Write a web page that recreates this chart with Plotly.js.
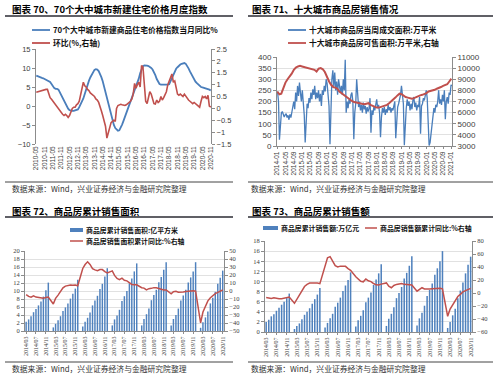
<!DOCTYPE html>
<html><head><meta charset="utf-8">
<script src="https://cdn.plot.ly/plotly-3.0.1.min.js"></script>
<style>html,body{margin:0;padding:0;background:#fff}#chart{width:500px;height:378px}</style>
</head><body><div id="chart"></div>
<script>
// ---------- Panel 70: 70-city new home price index (monthly, 2010-05 .. 2020-11)
const p1StartYear = 2010, p1StartMonth = 5;
const p1Yoy = [
  8.0, 7.8, 7.7, 7.6, 7.4, 7.3, 7.1, 7.0,
  6.8, 6.6, 6.3, 5.8, 5.2, 4.7, 4.5, 4.5, 4.3, 3.6, 2.9, 2.0,
  1.1, 0.4, -0.2, -0.7, -1.1, -1.3, -1.3, -1.3, -1.2, -1.1, -0.9, -0.3,
  0.7, 1.3, 2.0, 3.3, 4.6, 5.6, 6.6, 7.5, 8.2, 8.9, 9.5, 9.7,
  9.6, 9.2, 8.5, 7.6, 6.5, 5.0, 3.5, 2.0, 0.5, -1.2, -2.8, -4.0,
  -5.0, -5.8, -6.3, -6.5, -6.4, -5.8, -4.9, -3.9, -2.9, -1.9, -0.9, 0.2,
  1.3, 2.2, 3.1, 4.0, 4.8, 5.8, 7.2, 8.6, 9.8, 10.5, 10.7, 10.7,
  10.6, 10.5, 10.3, 10.0, 9.6, 9.0, 8.1, 7.1, 6.3, 5.8, 5.6, 5.6,
  5.5, 5.5, 5.5, 5.6, 5.7, 6.5, 7.6, 8.5, 9.3, 9.8, 10.2, 10.6,
  10.9, 11.1, 11.3, 11.3, 11.1, 10.6, 9.9, 9.1, 8.3, 7.6, 7.0, 6.4,
  6.0, 5.6, 5.2, 5.0, 4.9, 4.8, 4.7, 4.6, 4.5, 4.3, 4.1
];
const p1Mom = [
  0.68, 0.7, 0.72, 0.74, 0.75, 0.77, 0.78, 0.8, 0.8, 0.55,
  0.45, 0.38, 0.3, 0.2, 0.15, 0.05, 0.0, -0.1, -0.2, -0.25,
  -0.3, -0.25, -0.3, -0.38, -0.3, -0.1, 0.0, 0.05, 0.05, 0.15,
  0.2, 0.3, 0.55, 0.9, 1.1, 0.95, 0.9, 0.8, 0.75, 0.65,
  0.6, 0.55, 0.5, 0.4, 0.35, 0.25, 0.12, -0.1, -0.3, -0.55,
  -0.75, -1.25, -1.0, -0.85, -0.6, -0.55, -0.5, -0.55, 0.0, 0.12,
  0.15, 0.17, 0.15, 0.14, 0.12, 0.15, 0.2, 0.25, 0.3, 0.4,
  0.6, 1.05, 0.85, 1.0, 1.1, 0.9, 1.8, 1.75, 0.8, 0.3,
  0.2, 0.55, 0.7, 0.6, 0.4, 0.2, 0.18, 0.35, 0.25, 0.3,
  0.5, 0.35, 0.45, 0.55, 0.7, 1.0, 1.2, 1.3, 1.45, 1.1,
  1.15, 0.9, 0.6, 0.55, 0.6, 0.55, 0.5, 0.6, 0.5, 0.4,
  0.35, 0.3, 0.25, 0.2, 0.25, 0.2, 0.15, 0.1, 0.05, 0.3,
  0.5, 0.45, 0.5, 0.4, 0.55, 0.1, 0.05
];

// ---------- Panel 71: ten-city sales (deal area sampled every 2 weeks from 2014-01-05; inventory monthly from 2014-01)
const p2DealStart = [2014, 1, 5];
const p2DealStepDays = 14;
const p2Deal = [
  245, 200, 28, 120, 148, 155, 140, 130, 140, 145, 128, 138, 118, 142, 128, 150, 185, 200, 165, 240, 200, 270, 225, 285, 240, 200,
  250, 210, 140, 16, 150, 190, 170, 215, 195, 240, 210, 255, 230, 270, 210, 240, 215, 250, 200, 235, 180, 250, 230, 270, 245, 300,
  280, 240, 180, 8, 200, 300, 340, 270, 330, 250, 290, 230, 300, 260, 240, 270, 230, 300, 250, 388, 150, 200, 170, 210, 190, 230,
  240, 200, 30, 150, 190, 300, 200, 175, 200, 160, 185, 150, 195, 165, 180, 145, 175, 155, 170, 215, 60, 160, 140, 175, 160, 200,
  210, 170, 185, 150, 40, 130, 170, 150, 175, 140, 165, 150, 185, 160, 175, 150, 170, 160, 180, 200, 35, 150, 175, 190, 205, 230,
  270, 210, 190, 3, 120, 170, 210, 180, 200, 160, 190, 165, 205, 220, 175, 195, 160, 185, 175, 220, 55, 180, 190, 215, 205, 235,
  250, 215, 40, 2, 15, 60, 110, 145, 170, 150, 185, 175, 200, 250, 190, 210, 185, 230, 200, 250, 120, 200, 220, 190, 240, 230, 275, 270
];
const p2InvStartYear = 2014, p2InvStartMonth = 1;
const p2Inventory = [
  7900, 7650, 7700, 8200, 8700, 9000, 9200, 9500, 9850, 10050, 10150, 10200,
  10150, 10100, 10000, 9950, 9900, 9900, 9850, 9700, 9950, 10000, 9900, 9650,
  9150, 8800, 8500, 8300, 8250, 8150, 7900, 7750, 7600, 7450, 7350, 7150,
  7050, 6950, 6900, 6850, 6800, 6750, 6750, 6800, 6850, 6700, 6600, 6550,
  6450, 6450, 6500, 6550, 6600, 6700, 6850, 7000, 7150, 7350, 7550, 7700,
  7650, 7500, 7400, 7350, 7300, 7250, 7300, 7400, 7500, 7550, 7600, 7650,
  7750, 7900, 7950, 7950, 8050, 8150, 8200, 8300, 8400, 8450, 8550, 8800,
  9050
];

// ---------- Panels 72/73: cumulative monthly data, 2014-03 .. 2020-11 (January not published)
const p34StartYear = 2014, p34StartMonth = 3;
const p3Area = [
  2.3, 2.9, 3.7, 4.7, 5.5, 6.4, 7.4, 8.6, 10.2, 12.1,
  0.9, 1.8, 2.7, 3.7, 5.0, 5.9, 6.9, 8.1, 9.3, 10.6, 12.8,
  1.1, 2.3, 3.3, 4.6, 6.4, 7.6, 8.8, 10.5, 11.8, 13.6, 15.7,
  1.4, 2.9, 3.9, 5.3, 7.5, 8.7, 10.0, 11.9, 13.1, 14.9, 16.9,
  1.4, 3.0, 4.2, 5.6, 7.7, 9.0, 10.3, 12.2, 13.5, 15.3, 17.2,
  1.4, 3.0, 4.0, 5.6, 7.6, 8.9, 10.3, 12.1, 13.4, 14.9, 17.2,
  0.8, 2.2, 3.4, 4.9, 6.9, 8.3, 9.8, 11.8, 13.3, 15.1
];
const p3AreaYoy = [
  -4.5, -6.8, -7.8, -6.0, -7.6, -8.3, -8.6, -8.9, -8.2, -7.6,
  -16.3, -9.2, -5.1, -0.2, 3.9, 6.1, 7.2, 7.5, 7.2, 7.4, 6.5,
  28.2, 33.1, 36.5, 33.2, 27.9, 26.4, 25.5, 26.9, 26.8, 24.3, 22.5,
  25.1, 19.5, 15.7, 14.3, 16.1, 13.5, 12.7, 10.3, 8.2, 7.9, 7.7,
  4.1, 3.6, 1.3, 2.9, 3.3, 4.2, 4.0, 2.9, 2.2, 1.4, 1.3,
  -3.6, -0.9, -0.3, -1.6, -1.8, -1.3, -0.6, -0.1, 0.1, 0.2, -0.1,
  -39.9, -26.3, -19.3, -12.3, -8.4, -5.8, -3.3, -1.8, 0.0, 1.3
];
const p4Sales = [
  2.0, 2.4, 3.1, 3.5, 4.2, 4.8, 5.4, 6.0, 6.7, 7.6,
  0.6, 1.2, 1.7, 2.5, 3.4, 4.0, 4.7, 5.6, 6.5, 7.4, 8.7,
  0.9, 1.8, 2.7, 3.6, 5.0, 5.8, 6.8, 8.1, 9.2, 10.3, 11.8,
  1.1, 2.3, 3.2, 4.3, 5.9, 6.8, 7.8, 9.3, 10.4, 11.6, 13.4,
  1.2, 2.6, 3.6, 4.9, 6.7, 7.7, 8.9, 10.6, 11.7, 13.1, 15.0,
  1.3, 2.7, 3.8, 5.2, 7.1, 8.3, 9.6, 11.3, 12.6, 14.0, 16.0,
  0.8, 2.0, 3.3, 4.6, 6.7, 8.2, 9.8, 11.6, 13.3, 14.9
];
const p4SalesYoy = [
  -7.0, -8.0, -8.5, -7.5, -8.5, -9.0, -8.8, -8.0, -7.5, -6.3,
  -15.8, -9.3, -3.9, 3.1, 10.0, 13.3, 15.3, 15.3, 15.6, 15.4, 14.4,
  43.6, 54.1, 55.9, 49.0, 42.1, 40.0, 41.3, 41.1, 41.0, 37.5, 34.8,
  25.1, 21.1, 18.1, 17.2, 21.5, 18.8, 17.6, 14.6, 12.6, 12.2, 13.7,
  15.5, 10.4, 8.1, 11.6, 13.2, 14.1, 14.5, 13.3, 13.1, 12.1, 12.2,
  2.8, 5.6, 8.1, 6.1, 5.6, 6.2, 6.7, 7.1, 7.3, 7.3, 6.5,
  -35.9, -24.7, -18.6, -10.6, -5.4, -2.1, 1.6, 3.7, 5.8, 7.2
];

// ---------- text
const titles = ['图表 70、70个大中城市新建住宅价格月度指数', '图表 71、十大城市商品房销售情况',
                '图表 72、商品房累计销售面积', '图表 73、商品房累计销售额'];
const legendNames = {
  p1a: '70个大中城市新建商品住宅价格指数当月同比%', p1b: '环比(%,右轴)',
  p2a: '十大城市商品房当周成交面积:万平米', p2b: '十大城市商品房可售面积:万平米,右轴',
  p3a: '商品房累计销售面积:亿平方米', p3b: '商品房销售面积累计同比:%右轴',
  p4a: '商品房累计销售额:万亿元', p4b: '商品房销售额累计同比:%右轴'
};
const sourceText = '数据来源：Wind，兴业证券经济与金融研究院整理';

// ---------- helpers
function pad(n){return (n<10?'0':'')+n;}
function months(y, m, n, skipJan){
  const out=[]; while(out.length<n){ if(!(skipJan && m===1)) out.push(y+'-'+pad(m)+'-01'); m++; if(m>12){m=1;y++;} } return out;
}
const p1X = months(p1StartYear, p1StartMonth, p1Yoy.length, false);
const p2InvX = months(p2InvStartYear, p2InvStartMonth, p2Inventory.length, false);
const p2DealX = p2Deal.map((_, i) => { const d = new Date(Date.UTC(p2DealStart[0], p2DealStart[1]-1, p2DealStart[2])); d.setUTCDate(d.getUTCDate()+p2DealStepDays*i); return d.toISOString().slice(0,10); });
const p34X = months(p34StartYear, p34StartMonth, p3Area.length, true);

const W=500, H=378;
const fx = px => px/W, fy = py => 1 - py/H;
const BLUE='#4A7EBB', RED='#C0504D', BAR='#4F81BD', AX='#8C8C8C', GRID='#D9D9D9', TK='#404040';
const CJK='"Noto Sans CJK SC", "Noto Sans", sans-serif';
const SANS='"Liberation Sans", Arial, sans-serif';
const SERIF='"Liberation Serif", "Times New Roman", serif';

const traces = [
  {x:p1X, y:p1Yoy, type:'scatter', mode:'lines', line:{color:BLUE,width:1.8}, xaxis:'x', yaxis:'y'},
  {x:p1X, y:p1Mom, type:'scatter', mode:'lines', line:{color:RED,width:1.6}, xaxis:'x', yaxis:'y2'},
  {x:p2DealX, y:p2Deal, type:'scatter', mode:'lines', line:{color:BLUE,width:1.3}, xaxis:'x2', yaxis:'y3'},
  {x:p2InvX, y:p2Inventory, type:'scatter', mode:'lines', line:{color:RED,width:2}, xaxis:'x2', yaxis:'y4'},
  {x:p34X, y:p3Area, type:'bar', marker:{color:BAR}, xaxis:'x3', yaxis:'y5'},
  {x:p34X, y:p3AreaYoy, type:'scatter', mode:'lines', line:{color:RED,width:1.5}, xaxis:'x3', yaxis:'y6'},
  {x:p34X, y:p4Sales, type:'bar', marker:{color:BAR}, xaxis:'x4', yaxis:'y7'},
  {x:p34X, y:p4SalesYoy, type:'scatter', mode:'lines', line:{color:RED,width:1.5}, xaxis:'x4', yaxis:'y8'}
];

const P1={x:[36,211],y:[49,144]}, P2={x:[277,452],y:[57,146]}, P3={x:[25,224],y:[251,331]}, P4={x:[265,472],y:[241,332]};
const dom = p => ({x:[fx(p.x[0]),fx(p.x[1])], y:[fy(p.y[1]),fy(p.y[0])]});
const d1=dom(P1), d2=dom(P2), d3=dom(P3), d4=dom(P4);
const p1Range=[-10,15];
const p1XRange=['2010-04-25','2020-11-06'];
const zeroPos = d1.y[0] + (0-p1Range[0])/(p1Range[1]-p1Range[0])*(d1.y[1]-d1.y[0]);

function yax(extra){ return Object.assign({showline:true, linecolor:AX, linewidth:1, ticks:'outside', ticklen:3, tickcolor:AX, zeroline:false, showgrid:false, fixedrange:true}, extra); }
function xax(extra){ return Object.assign({type:'date', zeroline:false, showgrid:false, tickangle:-90, fixedrange:true}, extra); }

const layout = {
  width:W, height:H, margin:{l:0,r:0,t:0,b:0}, paper_bgcolor:'#fff', plot_bgcolor:'rgba(0,0,0,0)',
  showlegend:false, bargap:0.35,
  xaxis: xax({domain:d1.x, anchor:'y', range:p1XRange, tick0:'2010-05-01', dtick:'M6', tickformat:'%Y-%m', showline:false, ticks:'', tickfont:{family:SANS,size:6.5,color:TK}}),
  xaxis5: xax({overlaying:'x', anchor:'free', position:zeroPos, range:p1XRange, tick0:'2010-05-01', dtick:'M6', showticklabels:false, showline:true, linecolor:AX, ticks:'outside', ticklen:3, tickcolor:AX}),
  yaxis: yax({domain:d1.y, anchor:'x', range:p1Range, dtick:5, tickfont:{family:SANS,size:7.5,color:TK}}),
  yaxis2: yax({overlaying:'y', side:'right', anchor:'x', range:[-1.5,2.5], dtick:0.5, tickfont:{family:SANS,size:7.5,color:TK}}),

  xaxis2: xax({domain:d2.x, anchor:'y3', range:['2013-12-28','2021-01-10'], tick0:'2014-01-01', dtick:'M4', tickformat:'%Y-%m', showline:true, linecolor:AX, ticks:'outside', ticklen:2, tickcolor:AX, tickfont:{family:SANS,size:6.5,color:TK}}),
  yaxis3: yax({domain:d2.y, anchor:'x2', range:[0,400], dtick:50, showgrid:true, gridcolor:GRID, gridwidth:0.8, tickfont:{family:SANS,size:8,color:TK}}),
  yaxis4: yax({overlaying:'y3', side:'right', anchor:'x2', range:[3000,11000], dtick:1000, tickformat:'d', tickfont:{family:SANS,size:8,color:TK}}),

  xaxis3: xax({domain:d3.x, anchor:'y5', range:['2014-02-15','2020-11-17'], tick0:'2014-03-01', dtick:'M4', tickformat:'%Y/%m', showline:true, linecolor:AX, ticks:'outside', ticklen:2, tickcolor:AX, tickfont:{family:SERIF,size:6,color:TK}}),
  yaxis5: yax({domain:d3.y, anchor:'x3', range:[0,20], dtick:2, showgrid:true, gridcolor:GRID, gridwidth:0.8, tickfont:{family:SERIF,size:6.5,color:TK}}),
  yaxis6: yax({overlaying:'y5', side:'right', anchor:'x3', range:[-50,50], dtick:10, tickfont:{family:SERIF,size:6.5,color:TK}}),

  xaxis4: xax({domain:d4.x, anchor:'y7', range:['2014-02-15','2020-11-17'], tick0:'2014-03-01', dtick:'M4', tickformat:'%Y/%m', showline:true, linecolor:AX, ticks:'outside', ticklen:2, tickcolor:AX, tickfont:{family:SERIF,size:6,color:TK}}),
  yaxis7: yax({domain:d4.y, anchor:'x4', range:[0,18], dtick:2, showgrid:true, gridcolor:GRID, gridwidth:0.8, tickfont:{family:SERIF,size:6.5,color:TK}}),
  yaxis8: yax({overlaying:'y7', side:'right', anchor:'x4', range:[-60,80], dtick:20, tickfont:{family:SERIF,size:6.5,color:TK}}),
  shapes: [], annotations: []
};

function hline(x0,x1,y,color,width){ layout.shapes.push({type:'line', xref:'paper', yref:'paper', x0:fx(x0), x1:fx(x1), y0:fy(y), y1:fy(y), line:{color:color,width:width}}); }
function rect(x0,x1,y0,y1,color){ layout.shapes.push({type:'rect', xref:'paper', yref:'paper', x0:fx(x0), x1:fx(x1), y0:fy(y1), y1:fy(y0), line:{width:0}, fillcolor:color}); }
function text(t,x,y,size,bold,color){ layout.annotations.push({text: bold?'<b>'+t+'</b>':t, xref:'paper', yref:'paper', x:fx(x), y:fy(y), xanchor:'left', yanchor:'middle', showarrow:false, font:{family:CJK,size:size,color:color}}); }

// title underlines and source separators
[[5,233],[248,493]].forEach(s => { hline(s[0],s[1],16,'#2B2B33',1.5); hline(s[0],s[1],217,'#2B2B33',1.5); hline(s[0],s[1],182,'#444',1); hline(s[0],s[1],362,'#444',1); });

// titles
text(titles[0], 10, 9, 9.5, true, '#000');
text(titles[1], 250, 9, 9.5, true, '#000');
text(titles[2], 10, 211, 9.5, true, '#000');
text(titles[3], 250, 211, 9.5, true, '#000');

// sources
text(sourceText, 10, 188, 7.8, false, '#333');
text(sourceText, 249, 188, 7.8, false, '#333');
text(sourceText, 10, 368, 7.8, false, '#333');
text(sourceText, 249, 368, 7.8, false, '#333');

// legends
hline(32,50,30,BLUE,1.8); text(legendNames.p1a, 51, 30, 7.8, true, '#111');
hline(32,50,43,RED,1.8);  text(legendNames.p1b, 51, 43, 7.8, true, '#111');
hline(288,306,30,BLUE,1.8); text(legendNames.p2a, 307, 30, 7.8, true, '#111');
hline(288,306,43,RED,1.8);  text(legendNames.p2b, 307, 43, 7.8, true, '#111');
rect(70,83,228,232,BAR); text(legendNames.p3a, 84, 230, 6.9, true, '#111');
hline(70,83,241,RED,1.5); text(legendNames.p3b, 84, 241, 6.9, true, '#111');
rect(263,278,226,230,BAR); text(legendNames.p4a, 279, 228, 6.9, true, '#111');
hline(365,377,228,RED,1.5); text(legendNames.p4b, 378, 228, 6.9, true, '#111');

Plotly.newPlot('chart', traces, layout, {staticPlot:true, displayModeBar:false});
</script>
</body></html>
